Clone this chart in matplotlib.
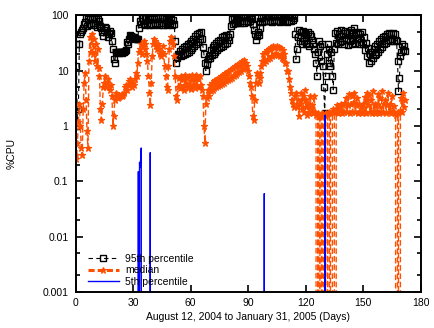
import numpy as np
import matplotlib
matplotlib.use("Agg")
import matplotlib.pyplot as plt
from matplotlib.lines import Line2D
from matplotlib.ticker import LogLocator, FixedLocator, FixedFormatter, NullFormatter

plt.rcParams['font.family'] = ['Liberation Sans', 'DejaVu Sans']

# CPU load per half day, starting August 12, 2004
# 95th percentile
p95 = [
    30, 12, 1.0, 2, 30, 45, 50, 55, 60, 70,          # day 0
    75, 88, 65, 85, 70, 90, 68, 86, 72, 88,          # day 5
    66, 85, 62, 84, 70, 80, 65, 60, 50, 42,          # day 10
    55, 62, 58, 50, 40, 45, 52, 48, 35, 25,          # day 15
    16, 14, 22, 22, 22, 21, 22, 22, 21, 22,          # day 20
    22, 22, 23, 24, 33, 30, 38, 44, 42, 40,          # day 25
    40, 40, 39, 38, 38, 37, 60, 78, 70, 88,          # day 30
    90, 70, 88, 68, 92, 72, 88, 66, 85, 70,          # day 35
    90, 68, 86, 72, 92, 70, 88, 66, 90, 74,          # day 40
    88, 68, 92, 72, 86, 66, 84, 70, 90, 72,          # day 45
    85, 68, 82, 70, 35, 14, 17, 20, 19, 23,          # day 50
    18, 25, 19, 27, 20, 28, 21, 30, 22, 32,          # day 55
    24, 34, 26, 38, 28, 42, 30, 45, 33, 48,          # day 60
    38, 50, 38, 27, 20, 14, 10, 13, 16, 18,          # day 65
    17, 24, 19, 27, 20, 29, 22, 32, 24, 34,          # day 70
    26, 36, 27, 40, 28, 42, 30, 44, 32, 40,          # day 75
    36, 45, 65, 85, 70, 92, 74, 95, 72, 90,          # day 80
    76, 96, 72, 94, 78, 98, 74, 92, 80, 97,          # day 85
    75, 94, 78, 92, 85, 70, 55, 45, 36, 42,          # day 90
    50, 44, 60, 80, 90, 75, 96, 78, 97, 80,          # day 95
    98, 78, 99, 80, 96, 76, 99, 82, 97, 78,          # day 100
    99, 80, 98, 77, 97, 82, 99, 78, 96, 80,          # day 105
    98, 77, 97, 80, 99, 78, 96, 82, 88, 45,          # day 110
    16, 25, 40, 55, 35, 50, 30, 52, 34, 48,          # day 115
    30, 46, 32, 50, 28, 45, 42, 36, 30, 25,          # day 120
    20, 14, 8, 22, 35, 28, 15, 30, 12, 5,            # day 125
    1.7, 8, 20, 30, 14, 25, 12, 22, 8, 4.5,          # day 130
    25, 48, 32, 52, 30, 45, 33, 55, 34, 48,          # day 135
    30, 52, 36, 48, 29, 50, 35, 55, 30, 47,          # day 140
    36, 58, 32, 50, 38, 47, 30, 45, 33, 50,          # day 145
    30, 40, 24, 32, 18, 26, 14, 20, 15, 22,          # day 150
    17, 25, 19, 28, 20, 30, 22, 34, 25, 38,          # day 155
    27, 40, 30, 42, 32, 46, 36, 48, 34, 45,          # day 160
    38, 48, 35, 45, 36, 35, 15, 4.2, 7.5, 18,        # day 165
    22, 30, 24, 28, 23]                              # day 170

# median
p50 = [
    0.3, 0.25, 0.5, 1.2, 2.5, 1.0, 0.4, 0.3, 2.0, 6,    # day 0
    9, 3, 0.8, 0.4, 15, 40, 22, 45, 20, 38,             # day 5
    15, 30, 12, 25, 11, 8, 2.0, 1.3, 2.5, 5,            # day 10
    6, 8, 5, 6, 7, 5, 4.5, 5.5, 3.5, 1.0,               # day 15
    1.5, 3, 4, 3.5, 3.2, 3.4, 3.5, 3.6, 3.5, 3.8,       # day 20
    3.6, 4, 5, 5.5, 4.5, 5.5, 6.5, 7, 6, 5,             # day 25
    6, 5.5, 7, 9, 8, 14, 22, 25, 30, 20,                # day 30
    28, 35, 30, 25, 20, 15, 8, 4, 2.4, 6,               # day 35
    18, 30, 38, 35, 28, 25, 30, 25, 20, 18,             # day 40
    22, 28, 20, 12, 8, 5, 4.5, 12, 25, 35,              # day 45
    40, 35, 30, 18, 8, 3.5, 3, 5, 7.5, 4.8,             # day 50
    8, 5, 7, 4.5, 8.5, 5.5, 7.5, 4.8, 8, 5.2,           # day 55
    7.5, 4.6, 8.5, 5.5, 7, 4.8, 8.2, 5.2, 7.8, 5,       # day 60
    8, 5.5, 4.5, 3.5, 1.0, 0.5, 2.5, 3.2, 4.5, 3.5,     # day 65
    5.5, 4.2, 6, 4.5, 6.5, 4.8, 6.8, 5, 7.2, 5.2,       # day 70
    7.5, 5.5, 8, 5.8, 8.5, 6, 9, 6.5, 9.5, 6.8,         # day 75
    10, 7, 10.5, 7.5, 11, 8, 12, 8.5, 12.5, 9,          # day 80
    13, 9.5, 14, 10, 15, 10.5, 15.5, 11, 14, 12,        # day 85
    10, 8, 6, 5, 3.5, 1.5, 1.3, 3, 6, 9,                # day 90
    8, 6, 7.5, 9, 12, 15, 20, 14, 22, 15,               # day 95
    24, 16, 25, 17, 27, 18, 28, 19, 27, 20,             # day 100
    28, 19, 27, 18, 26, 17, 24, 16, 20, 14,             # day 105
    14, 10, 10, 7, 5, 4, 3, 2.5, 2.2, 3.5,              # day 110
    4, 2.2, 3, 1.5, 2.5, 4, 2.0, 3.5, 1.8, 4.5,         # day 115
    2.2, 3, 1.6, 2.5, 1.7, 3.5, 1.8, 2.4, 1.7, 3.5,     # day 120
    1.8, 1.6, 0, 1.7, 0, 1.6, 0, 1.7, 0, 1.6,           # day 125
    1.6, 1.7, 0, 1.7, 0, 1.8, 1.7, 0, 1.8, 2,           # day 130
    1.8, 0, 1.8, 2.4, 1.7, 2.3, 1.8, 2.5, 1.7, 2.4,     # day 135
    1.8, 2.6, 3.2, 1.8, 2.4, 3.8, 1.7, 2.5, 3.5, 1.8,   # day 140
    2.6, 4, 1.8, 2.4, 3.2, 1.7, 2.5, 1.8, 2.3, 1.7,     # day 145
    2.5, 1.8, 3.3, 1.7, 4, 2.4, 3.6, 1.8, 3, 1.7,       # day 150
    4.2, 1.8, 2.5, 1.7, 2.4, 1.8, 3.8, 1.7, 3.2, 1.8,   # day 155
    4.3, 1.8, 2.5, 3, 1.7, 2.4, 4, 1.8, 2.5, 1.7,       # day 160
    3.5, 1.8, 2.3, 1.7, 1.6, 0, 1.7, 1.8, 0, 1.9,       # day 165
    3.2, 1.8, 4, 2.2, 3]                                # day 170

days95 = np.arange(len(p95)) * 0.5
days50 = np.arange(len(p50)) * 0.5

# 5th percentile is zero almost everywhere, only a few spikes
days5 = [0, 32.5, 32.8, 33.1, 33.4, 33.7, 34.0, 34.3, 34.6,
         38.6, 39.0, 39.4, 98.2, 98.5, 98.8, 129.9, 130.2, 130.5, 172]
p5 = [0, 0, 0.15, 0, 0.22, 0.18, 0.25, 0.4, 0,
      0, 0.33, 0, 0, 0.06, 0, 0, 1.57, 0, 0]

xticks = [0, 30, 60, 90, 120, 150, 180]
yticks = [0.001, 0.01, 0.1, 1, 10, 100]
ylabels = ['0.001', '0.01', '0.1', '1', '10', '100']

orange = '#ff5000'
blue = '#0000ff'

fig = plt.figure(figsize=(4.35, 3.28), dpi=100)
ax = fig.add_axes([0.1736, 0.1098, 0.7931, 0.8436])
ax.set_yscale('log', nonpositive='clip')

l95, = ax.plot(days95, p95, color='black', lw=0.8, dashes=(4, 3),
               marker='s', markersize=4.2, markerfacecolor='none',
               markeredgewidth=1.0)
ax.plot(days50, p50, color=orange, lw=1.0, dashes=(4, 2),
        marker='*', markersize=5, markeredgewidth=0.9)
l5, = ax.plot(days5, p5, color=blue, lw=1.0)

ax.set_xlim(0, 180)
ax.set_ylim(0.001, 100)
ax.xaxis.set_major_locator(FixedLocator(xticks))
ax.yaxis.set_major_locator(FixedLocator(yticks))
ax.yaxis.set_major_formatter(FixedFormatter(ylabels))
ax.yaxis.set_minor_locator(LogLocator(base=10, subs=(2, 5)))
ax.yaxis.set_minor_formatter(NullFormatter())

ax.tick_params(which='both', direction='in', top=True, right=True,
               labelsize=7.5, width=1.2)
ax.tick_params(which='major', length=5)
ax.tick_params(which='minor', length=3)
ax.tick_params(axis='x', pad=4)
ax.tick_params(axis='y', pad=5)
for s in ax.spines.values():
    s.set_linewidth(1.4)

ax.set_xlabel('August 12, 2004 to January 31, 2005 (Days)', fontsize=7.5,
              labelpad=3)
ax.set_ylabel('%CPU', fontsize=7.5)
ax.yaxis.set_label_coords(-0.17, 0.5)

# thicker dashed sample for the median in the key
med_key = Line2D([], [], color=orange, lw=2.2, dashes=(2, 1),
                 marker='*', markersize=5, markeredgewidth=0.8)
ax.legend([l95, med_key, l5], ['95th percentile', 'median', '5th percentile'],
          loc='lower left', bbox_to_anchor=(0.02, 0.0), frameon=False,
          fontsize=7.5, handlelength=3.0, handletextpad=0.6,
          labelspacing=0.15, borderaxespad=0.1, numpoints=1)

fig.savefig('out.png', dpi=100)
